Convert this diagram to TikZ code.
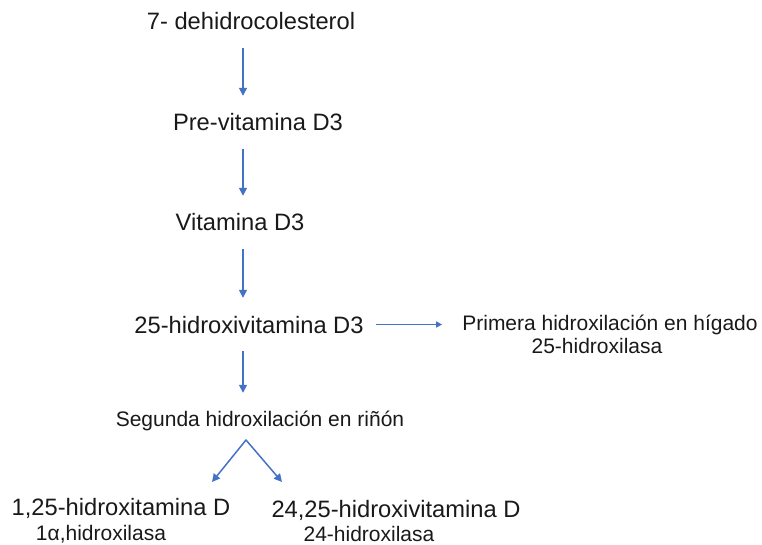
\documentclass[tikz,border=0pt]{standalone}
\usepackage{fontspec}
\setmainfont{Liberation Sans}
\usetikzlibrary{arrows.meta}
\definecolor{azul}{HTML}{4472C4}
\begin{document}
\begin{tikzpicture}[x=1bp,y=-1bp,line join=round,>={Triangle[length=8bp,width=8bp]},
	grande/.style={anchor=base,inner sep=0pt,text height=17bp,text depth=0pt,font=\fontsize{23.7bp}{28bp}\selectfont,text=black!90},
	chico/.style={anchor=base,inner sep=0pt,text height=15bp,text depth=0pt,font=\fontsize{21bp}{25bp}\selectfont,text=black!90},
	flecha/.style={->,azul,line width=1.5bp,shorten <=18bp,shorten >=18bp}]
	\useasboundingbox (0,0) rectangle (762,545);
	\coordinate (eje) at (243,0);
	\node[grande] (dhc) at (251,30) {7- dehidrocolesterol};
	\node[grande] (prev) at (258,131) {Pre-vitamina D3};
	\node[grande] (vitd) at (240,231) {Vitamina D3};
	\node[grande] (hid) at (249,333) {25-hidroxivitamina D3};
	\node[chico] (prim) at (610,330) {Primera hidroxilación en hígado};
	\node[chico] (enz1) at (597,353) {25-hidroxilasa};
	\node[chico] (seg) at (260,426) {Segunda hidroxilación en riñón};
	\node[grande] (calc) at (121,515) {1,25-hidroxitamina D};
	\node[chico] (enz2) at (101,540) {1α,hidroxilasa};
	\node[grande] (hid24) at (396,517) {24,25-hidroxivitamina D};
	\node[chico] (enz3) at (369,541) {24-hidroxilasa};
	\draw[flecha] (dhc.south -| eje) -- (prev.north -| eje);
	\draw[flecha] (prev.south -| eje) -- (vitd.north -| eje);
	\draw[flecha] (vitd.south -| eje) -- (hid.north -| eje);
	\draw[flecha] (hid.south -| eje) -- (seg.north -| eje);
	\draw[flecha,line width=1bp,>={Triangle[length=6bp,width=6bp]},shorten <=12bp,shorten >=20bp] (hid.east) -- (hid.east -| prim.west);
	\coordinate (bif) at (246,440);
	\coordinate (izq) at (212,482);
	\coordinate (der) at (282,482);
	\draw[<->,azul,line width=1.5bp] (izq) -- (bif) -- (der);
\end{tikzpicture}
\end{document}
